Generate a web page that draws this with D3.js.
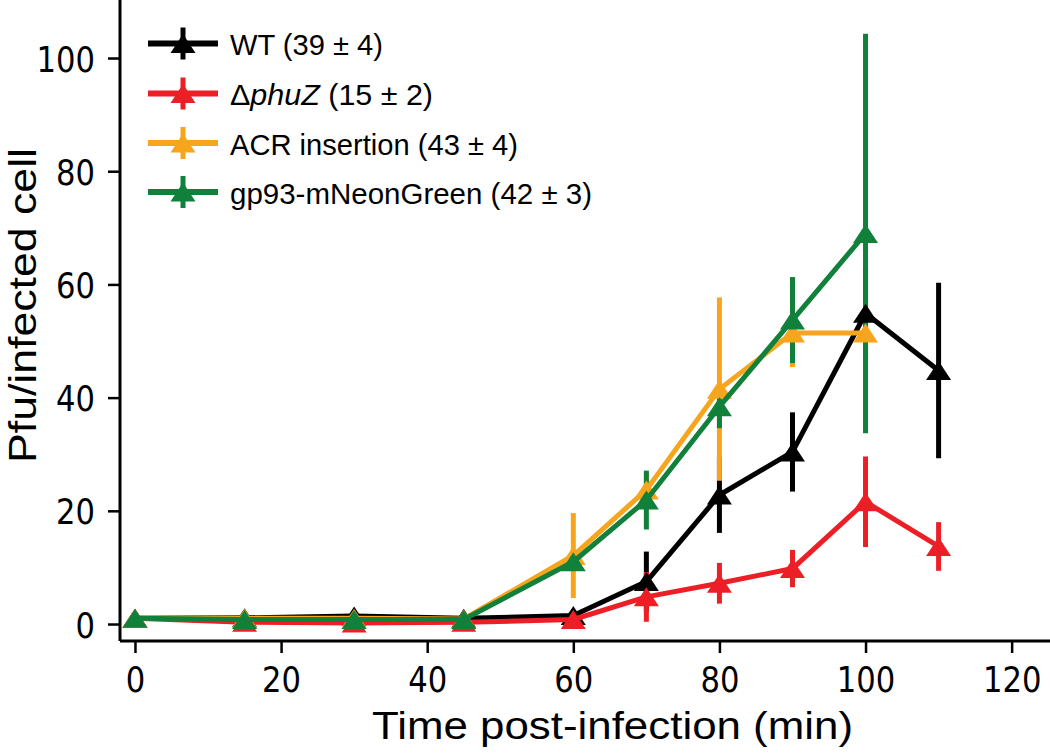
<!DOCTYPE html>
<html><head><meta charset="utf-8">
<script src="https://cdn.jsdelivr.net/npm/d3@7"></script>
<style>body{margin:0;background:#fff}svg{display:block}</style>
</head><body>
<svg id="chart" width="1050" height="754"></svg>
<script>
// ---- data ----
const timesWT = [0, 15, 30, 45, 60, 70, 80, 90, 100, 110];
const wtValues = [1.0, 1.1, 1.4, 1.0, 1.5, 7.5, 22.8, 30.4, 54.9, 44.8];
const wtErrors = [0.5, 0.5, 0.5, 0.5, 0.7, 5.3, 6.7, 7.0, 8.0, 15.5];

const timesPhuZ = [0, 15, 30, 45, 60, 70, 80, 90, 100, 110];
const phuZValues = [1.0, 0.3, 0.2, 0.3, 0.8, 4.8, 7.2, 9.8, 21.6, 13.7];
const phuZErrors = [0.5, 0.5, 0.5, 0.5, 0.5, 4.4, 3.6, 3.3, 8.0, 4.3];

const timesACR = [0, 15, 30, 45, 60, 70, 80, 90, 100];
const acrValues = [1.0, 1.0, 1.0, 0.9, 12.1, 23.7, 41.5, 51.4, 51.4];
const acrErrors = [0.5, 0.5, 0.5, 0.5, 7.5, 3.0, 16.2, 6.0, 5.0];

const timesGreen = [0, 15, 30, 45, 60, 70, 80, 90, 100];
const greenValues = [1.0, 0.8, 0.8, 0.8, 11.0, 21.9, 38.4, 53.7, 69.0];
const greenErrors = [0.5, 0.5, 0.5, 0.5, 1.0, 5.2, 3.8, 7.6, 35.3];

const seriesColors = ["#000000", "#ec1f26", "#f7a51c", "#11803b"];
const legendLabels = [
  [{t: "WT (39 ± 4)"}],
  [{t: "Δ"}, {t: "phuZ", i: true}, {t: " (15 ± 2)"}],
  [{t: "ACR insertion (43 ± 4)"}],
  [{t: "gp93-mNeonGreen (42 ± 3)"}]
];
const legendWidths = [153, 203, 288, 362];

const xTicks = [0, 20, 40, 60, 80, 100, 120];
const yTicks = [0, 20, 40, 60, 80, 100];
const xLabel = "Time post-infection (min)";
const yLabel = "Pfu/infected cell";

// ---- build ----
const series = [
  {x: timesWT, y: wtValues, e: wtErrors},
  {x: timesPhuZ, y: phuZValues, e: phuZErrors},
  {x: timesACR, y: acrValues, e: acrErrors},
  {x: timesGreen, y: greenValues, e: greenErrors}
].map((s, k) => ({color: seriesColors[k], pts: s.x.map((t, i) => ({t, v: s.y[i], e: s.e[i]}))}));

const svg = d3.select("#chart");
const x = d3.scaleLinear().domain([-2.05, 125.25]).range([120, 1050]);
const y = d3.scaleLinear().domain([-3.0, 110.25]).range([641, 0]);

const LW = 5;
const triW = 25, triH = 19;
const tri = `M0,${-triH/2}L${triW/2},${triH/2}L${-triW/2},${triH/2}Z`;

// error bars (below all data lines)
const gErr = svg.append("g");
series.forEach(s => {
  gErr.selectAll(null).data(s.pts).enter().append("line")
    .attr("x1", d => x(d.t)).attr("x2", d => x(d.t))
    .attr("y1", d => y(d.v - d.e)).attr("y2", d => y(d.v + d.e))
    .attr("stroke", s.color).attr("stroke-width", LW);
});

// lines + markers
const line = d3.line().x(d => x(d.t)).y(d => y(d.v));
series.forEach(s => {
  const g = svg.append("g");
  g.append("path").datum(s.pts).attr("d", line)
    .attr("fill", "none").attr("stroke", s.color).attr("stroke-width", LW)
    .attr("stroke-linejoin", "round");
  g.selectAll(null).data(s.pts).enter().append("path")
    .attr("d", tri).attr("transform", d => `translate(${x(d.t)},${y(d.v)})`)
    .attr("fill", s.color);
});

// axes
const xAxis = svg.append("g").attr("transform", "translate(0,641)")
  .call(d3.axisBottom(x).tickValues(xTicks).tickSize(12).tickSizeOuter(0));
const yAxis = svg.append("g").attr("transform", "translate(120,0)")
  .call(d3.axisLeft(y).tickValues(yTicks).tickSize(12).tickSizeOuter(0));
[xAxis, yAxis].forEach(a => {
  a.select(".domain").attr("stroke", "#000").attr("stroke-width", 3);
  a.selectAll(".tick line").attr("stroke", "#000").attr("stroke-width", 2.5);
  a.selectAll(".tick text").attr("font-family", "DejaVu Sans").attr("font-size", 35)
    .attr("fill", "#000")
    .attr("textLength", function() { return this.textContent.length * 19.5; })
    .attr("lengthAdjust", "spacingAndGlyphs");
});
xAxis.selectAll(".tick text").attr("y", 51).attr("dy", 0);
yAxis.selectAll(".tick text").attr("x", -25).attr("dy", 13);
xAxis.select(".domain").attr("d", "M120,0H1050");
yAxis.select(".domain").attr("d", "M0,0V641");

// axis titles
svg.append("text").attr("x", 612.5).attr("y", 739).attr("text-anchor", "middle")
  .attr("font-family", "Liberation Sans, Arial, sans-serif").attr("font-size", 38)
  .attr("textLength", 481).attr("lengthAdjust", "spacingAndGlyphs").text(xLabel);
svg.append("text").attr("transform", "translate(36,305.5) rotate(-90)").attr("text-anchor", "middle")
  .attr("font-family", "Liberation Sans, Arial, sans-serif").attr("font-size", 38)
  .attr("textLength", 315).attr("lengthAdjust", "spacingAndGlyphs").text(yLabel);

// legend
const rowsY = [43.5, 93.5, 143, 192];
const lg = svg.append("g");
series.forEach((s, k) => {
  const cy = rowsY[k];
  lg.append("line").attr("x1", 148).attr("x2", 218).attr("y1", cy).attr("y2", cy)
    .attr("stroke", s.color).attr("stroke-width", LW + 1);
  lg.append("line").attr("x1", 183).attr("x2", 183).attr("y1", cy - 16).attr("y2", cy + 16)
    .attr("stroke", s.color).attr("stroke-width", LW);
  lg.append("path").attr("d", tri).attr("transform", `translate(183,${cy})`).attr("fill", s.color);
  const t = lg.append("text").attr("x", 230).attr("y", cy + 11.5)
    .attr("font-family", "Liberation Sans, Arial, sans-serif").attr("font-size", 30)
    .attr("textLength", legendWidths[k]).attr("lengthAdjust", "spacingAndGlyphs");
  legendLabels[k].forEach(p => {
    const ts = t.append("tspan").text(p.t);
    if (p.i) ts.attr("font-style", "italic");
  });
});
</script>
</body></html>
